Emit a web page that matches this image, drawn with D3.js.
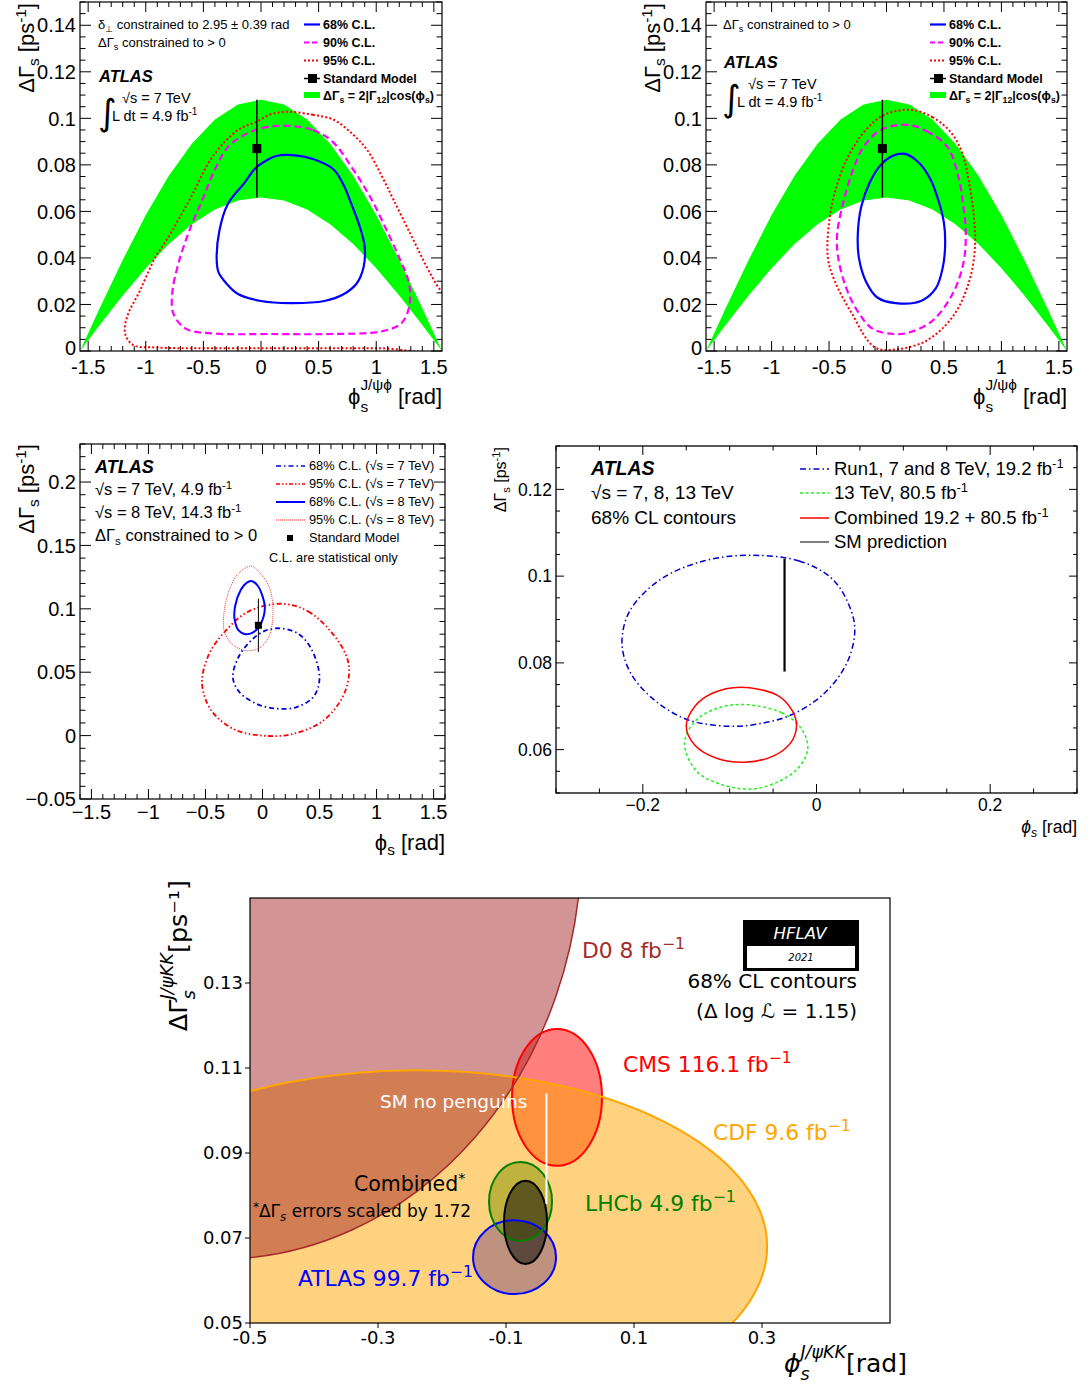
<!DOCTYPE html>
<html><head><meta charset="utf-8">
<script src="https://cdn.jsdelivr.net/npm/d3@7"></script>
<style>body{margin:0;background:#fff}svg{display:block}</style>
</head><body>
<svg id="c" width="1088" height="1387"></svg>
<script>
// ================= DATA =================
// Theory band dGamma = 2|G12|cos(phi) (panels A, B)
const bandPhi   = [-1.5708,-1.4,-1.2,-1.0,-0.8,-0.6,-0.4,-0.2,0,0.2,0.4,0.6,0.8,1.0,1.2,1.4,1.5708];
const bandUpper = [0,0.0184,0.0391,0.0584,0.0753,0.0891,0.0995,0.1059,0.108,0.1059,0.0995,0.0891,0.0753,0.0584,0.0391,0.0184,0];
const bandLower = [0,0.0112,0.0239,0.0356,0.0460,0.0545,0.0608,0.0647,0.066,0.0647,0.0608,0.0545,0.0460,0.0356,0.0239,0.0112,0];
// Standard model points
const smOld = {phi:-0.036, dg:0.087, err:0.021};
const smNew = {phi:-0.0368, dg:0.091, err:0.013};
// Panel A contours [phi, dGamma]
const contA68 = [[0.235,0.0843],[0.45,0.0825],[0.63,0.078],[0.72,0.071],[0.77,0.065],[0.86,0.053],[0.90,0.0447],[0.89,0.036],[0.83,0.029],[0.72,0.0245],[0.55,0.0215],[0.25,0.0206],[0.0,0.0215],[-0.2,0.0245],[-0.3,0.029],[-0.37,0.034],[-0.385,0.0405],[-0.36,0.0520],[-0.29,0.063],[-0.14,0.0725],[-0.05,0.0785],[0.05,0.082],[0.13,0.0838]];
const contA90 = [[0.235,0.0968],[0.45,0.0950],[0.62,0.0900],[0.80,0.0780],[0.95,0.066],[1.08,0.053],[1.20,0.040],[1.28,0.030],[1.29,0.020],[1.22,0.012],[1.05,0.0085],[0.6,0.0073],[0.1,0.0073],[-0.4,0.0075],[-0.65,0.0095],[-0.76,0.016],[-0.77,0.025],[-0.72,0.037],[-0.62,0.052],[-0.50,0.066],[-0.40,0.078],[-0.28,0.088],[-0.10,0.094],[0.05,0.0962]];
const contA95 = [[0.25,0.1028],[0.45,0.1015],[0.63,0.0994],[0.80,0.093],[0.92,0.0865],[1.05,0.075],[1.15,0.065],[1.30,0.050],[1.44,0.036],[1.53,0.028],[1.64,0.020],[1.64,0.0015],[1.0,0.0012],[0.0,0.0012],[-0.9,0.0015],[-1.11,0.0026],[-1.18,0.0077],[-1.16,0.015],[-1.05,0.026],[-0.92,0.040],[-0.82,0.0477],[-0.62,0.065],[-0.42,0.0835],[-0.2,0.095],[-0.04,0.0985],[0.1,0.102]];
// Panel B contours
const contB68 = [[0.16,0.0847],[0.28,0.081],[0.38,0.074],[0.45,0.065],[0.50,0.055],[0.51,0.045],[0.49,0.036],[0.43,0.027],[0.30,0.0215],[0.08,0.0206],[-0.08,0.023],[-0.18,0.030],[-0.24,0.040],[-0.25,0.050],[-0.22,0.062],[-0.15,0.072],[-0.05,0.080],[0.05,0.0838]];
const contB90 = [[0.18,0.0972],[0.35,0.0945],[0.53,0.0877],[0.62,0.076],[0.67,0.062],[0.69,0.050],[0.67,0.038],[0.58,0.025],[0.40,0.0130],[0.20,0.0080],[0.06,0.0073],[-0.12,0.0095],[-0.25,0.017],[-0.35,0.027],[-0.42,0.040],[-0.43,0.050],[-0.37,0.065],[-0.29,0.078],[-0.2,0.0877],[-0.05,0.095]];
const contB95 = [[0.21,0.1037],[0.40,0.1005],[0.56,0.094],[0.66,0.085],[0.72,0.072],[0.76,0.058],[0.77,0.0447],[0.72,0.030],[0.58,0.0150],[0.35,0.0045],[0.10,0.0008],[-0.10,0.0015],[-0.30,0.0160],[-0.45,0.030],[-0.51,0.040],[-0.50,0.055],[-0.45,0.068],[-0.34,0.083],[-0.18,0.095],[-0.02,0.1015]];
// Panel C contours
const contC8_68 = [[-0.097,0.122],[-0.04,0.118],[0.0,0.110],[0.02,0.102],[0.01,0.094],[-0.03,0.086],[-0.09,0.081],[-0.15,0.080],[-0.21,0.083],[-0.245,0.092],[-0.24,0.102],[-0.19,0.115],[-0.14,0.1205]];
const contC8_95 = [[-0.097,0.1337],[-0.02,0.128],[0.06,0.117],[0.09,0.103],[0.085,0.088],[0.05,0.077],[-0.03,0.069],[-0.14,0.067],[-0.25,0.071],[-0.33,0.081],[-0.34,0.095],[-0.29,0.115],[-0.21,0.128]];
const contC7_68 = [[0.17,0.0845],[0.32,0.080],[0.43,0.068],[0.50,0.0458],[0.45,0.031],[0.30,0.0225],[0.12,0.0213],[-0.05,0.025],[-0.20,0.034],[-0.26,0.0458],[-0.21,0.062],[-0.10,0.075],[0.03,0.083]];
const contC7_95 = [[0.17,0.104],[0.40,0.098],[0.60,0.082],[0.73,0.064],[0.76,0.050],[0.70,0.030],[0.52,0.011],[0.25,0.001],[0.0,0.0],[-0.25,0.005],[-0.45,0.020],[-0.53,0.041],[-0.47,0.064],[-0.32,0.083],[-0.12,0.098]];
// Panel D contours
const contDrun1 = [[-0.078,0.1048],[-0.02,0.1035],[0.019,0.0992],[0.040,0.092],[0.044,0.0869],[0.035,0.080],[0.0097,0.0731],[-0.028,0.0681],[-0.065,0.0660],[-0.101,0.0654],[-0.150,0.0670],[-0.190,0.0720],[-0.215,0.078],[-0.224,0.0846],[-0.215,0.092],[-0.18,0.0992],[-0.13,0.1035]];
const contD13   = [[-0.083,0.0704],[-0.040,0.0685],[-0.018,0.0650],[-0.010,0.0604],[-0.020,0.0560],[-0.045,0.0525],[-0.0765,0.0509],[-0.110,0.0520],[-0.138,0.0550],[-0.152,0.0615],[-0.140,0.0665],[-0.115,0.0695]];
const contDcomb = [[-0.0876,0.0744],[-0.045,0.0725],[-0.028,0.0690],[-0.023,0.0654],[-0.030,0.0615],[-0.050,0.0585],[-0.083,0.0571],[-0.115,0.0580],[-0.140,0.0610],[-0.150,0.0654],[-0.140,0.0700],[-0.120,0.0730]];
// Panel E (HFLAV) 68% CL ellipses
const ellNames = ["ATLAS","CMS","LHCb","CDF","D0","Combined"];
const ellPhi   = [-0.0867,-0.0203,-0.0773,-0.24,-0.55,-0.0695];
const ellDG    = [0.0655,0.1031,0.0786,0.068,0.163,0.0737];
const ellPhiR  = [0.0648,0.0703,0.0492,0.548,0.568,0.0336];
const ellDGR   = [0.0087,0.0161,0.0093,0.0415,0.098,0.0098];
const ellColor = ["#0000ff","#ff0000","#008000","#ffa500","#a52a2a","#000000"];
// Tick labels
const tickAx = [-1.5,-1,-0.5,0,0.5,1,1.5], tickAxL = ["-1.5","-1","-0.5","0","0.5","1","1.5"];
const tickAy = [0,0.02,0.04,0.06,0.08,0.1,0.12,0.14], tickAyL = ["0","0.02","0.04","0.06","0.08","0.1","0.12","0.14"];
const tickCx = [-1.5,-1,-0.5,0,0.5,1,1.5], tickCxL = ["\u22121.5","\u22121","\u22120.5","0","0.5","1","1.5"];
const tickCy = [-0.05,0,0.05,0.1,0.15,0.2], tickCyL = ["\u22120.05","0","0.05","0.1","0.15","0.2"];
const tickDx = [-0.2,0,0.2], tickDxL = ["\u22120.2","0","0.2"];
const tickDy = [0.06,0.08,0.1,0.12], tickDyL = ["0.06","0.08","0.1","0.12"];
const tickEx = [-0.5,-0.3,-0.1,0.1,0.3], tickExL = ["-0.5","-0.3","-0.1","0.1","0.3"];
const tickEy = [0.05,0.07,0.09,0.11,0.13], tickEyL = ["0.05","0.07","0.09","0.11","0.13"];

// ================= HELPERS =================
const svg = d3.select('#c');
const ROOT = "'Liberation Sans', Arial, Helvetica, sans-serif";
const MPL = "'DejaVu Sans', sans-serif";
const PHI = '\u03d5';

function rich(g, x, y, segs, o) {
  const size = o.size;
  const t = g.append('text').attr('x', x).attr('y', y)
    .attr('font-family', o.family || ROOT).attr('font-size', size)
    .attr('text-anchor', o.anchor || 'start').attr('fill', o.fill || '#000');
  if (o.weight) t.attr('font-weight', o.weight);
  if (o.style) t.attr('font-style', o.style);
  let cur = 0;
  segs.forEach(s => {
    const [txt, kind, st] = Array.isArray(s) ? s : [s, ''];
    let off = 0, fs = size;
    if (kind === 'sup') { off = -size * (o.supRise || 0.38); fs = size * (o.supScale || 0.7); }
    if (kind === 'sub') { off = size * 0.22; fs = size * 0.7; }
    const ts = t.append('tspan').attr('dy', off - cur).attr('font-size', fs).text(txt);
    if (st) ts.attr('font-style', st);
    cur = off;
  });
  return t;
}

// base + stacked (sup over sub) + tail, right aligned at xRight
function stacked(g, xRight, y, base, sup, sub, tail, o) {
  const size = o.size, fam = o.family || ROOT;
  const mk = (txt, fs, st) => { const t = g.append('text').attr('font-family', fam).attr('font-size', fs).attr('fill', '#000').text(txt); if (st) t.attr('font-style', st); return t; };
  const tT = mk(tail, size, o.tailStyle).attr('x', xRight).attr('y', y).attr('text-anchor', 'end');
  const wT = tT.node().getComputedTextLength();
  const xs = xRight - wT - (o.gap || 0);
  const tSup = mk(sup, size * (o.supScale || 0.7), o.scriptStyle).attr('y', y - size * (o.supRise || 0.5));
  const tSub = mk(sub, size * 0.7, o.scriptStyle).attr('y', y + size * (o.subDrop || 0.3));
  const w = Math.max(tSup.node().getComputedTextLength(), tSub.node().getComputedTextLength());
  tSup.attr('x', xs - w); tSub.attr('x', xs - w);
  mk(base, size, o.baseStyle).attr('x', xs - w - (o.gap2 || 0)).attr('y', y).attr('text-anchor', 'end');
}

function panel(id, xr, yr, xd, yd) {
  const x = d3.scaleLinear().domain(xd).range(xr);
  const y = d3.scaleLinear().domain(yd).range(yr);
  const g = svg.append('g');
  svg.append('clipPath').attr('id', 'clip' + id).append('rect')
    .attr('x', xr[0]).attr('y', yr[1]).attr('width', xr[1] - xr[0]).attr('height', yr[0] - yr[1]);
  const plot = g.append('g').attr('clip-path', `url(#clip${id})`);
  return { x, y, g, plot };
}

function steps(dom, step) {
  const a = Math.ceil((dom[0] - 1e-9) / step), b = Math.floor((dom[1] + 1e-9) / step);
  return d3.range(a, b + 1).map(i => +(i * step).toFixed(6));
}
function isMaj(v, step) { return Math.abs(v / step - Math.round(v / step)) < 1e-6; }

function rootAxes(P, o) {
  const { x, y, g } = P;
  const [x0, x1] = x.range(), [y0, y1] = y.range();
  const tg = g.append('g').attr('stroke', '#000').attr('stroke-width', o.tw || 1);
  steps(x.domain(), o.xMinor).forEach(v => {
    const L = isMaj(v, o.xMajor) ? o.majX : o.minX, px = x(v);
    tg.append('line').attr('x1', px).attr('x2', px).attr('y1', y0).attr('y2', y0 - L);
    tg.append('line').attr('x1', px).attr('x2', px).attr('y1', y1).attr('y2', y1 + L);
  });
  steps(y.domain(), o.yMinor).forEach(v => {
    const L = isMaj(v, o.yMajor) ? o.majY : o.minY, py = y(v);
    tg.append('line').attr('y1', py).attr('y2', py).attr('x1', x0).attr('x2', x0 + L);
    tg.append('line').attr('y1', py).attr('y2', py).attr('x1', x1).attr('x2', x1 - L);
  });
  g.append('rect').attr('x', x0).attr('y', y1).attr('width', x1 - x0).attr('height', y0 - y1)
    .attr('fill', 'none').attr('stroke', '#000').attr('stroke-width', o.fw || 1.2);
  const ax = g.append('g').attr('font-family', ROOT).attr('font-size', o.fs);
  o.xt.forEach((v, i) => ax.append('text').attr('x', x(v)).attr('y', y0 + o.xOff).attr('text-anchor', 'middle').text(o.xtl[i]));
  o.yt.forEach((v, i) => ax.append('text').attr('x', x0 - o.yOff).attr('y', y(v) + (o.yShift && i === 0 ? o.yShift : 0)).attr('dy', '0.36em').attr('text-anchor', 'end').text(o.ytl[i]));
}

const closedLine = (P) => d3.line().x(d => P.x(d[0])).y(d => P.y(d[1])).curve(d3.curveCatmullRomClosed.alpha(0.5));
function contour(P, data, color, width, dash) {
  const p = P.plot.append('path').attr('d', closedLine(P)(data)).attr('fill', 'none')
    .attr('stroke', color).attr('stroke-width', width);
  if (dash) p.attr('stroke-dasharray', dash);
}
function smMark(P, sm, size, w) {
  const px = P.x(sm.phi);
  P.plot.append('line').attr('x1', px).attr('x2', px).attr('y1', P.y(sm.dg - sm.err)).attr('y2', P.y(sm.dg + sm.err)).attr('stroke', '#000').attr('stroke-width', w);
  if (size) P.plot.append('rect').attr('x', px - size / 2).attr('y', P.y(sm.dg) - size / 2).attr('width', size).attr('height', size).attr('fill', '#000');
}

const BLUE = '#0000ff', MAG = '#ff00ff', RED = '#ff0000', GREEN = '#00ff00';
const dash90 = '7,4', dash95 = '2,2.2';

// ================= PANELS A & B =================
function panelAB(id, xr, contours, legendX, textSpec) {
  const P = panel(id, xr, [351, 2], [-1.5708, 1.5708], [0, 0.15]);
  const band = bandPhi.map((p, i) => [p, bandLower[i], bandUpper[i]]);
  P.plot.append('path').attr('d', d3.area().x(d => P.x(d[0])).y0(d => P.y(d[1])).y1(d => P.y(d[2]))(band)).attr('fill', GREEN);
  contour(P, contours[2], RED, 2, dash95);
  contour(P, contours[1], MAG, 2.2, dash90);
  contour(P, contours[0], BLUE, 2.2);
  smMark(P, smOld, 9, 1.5);
  rootAxes(P, { xMinor: 0.1, xMajor: 0.5, yMinor: 0.005, yMajor: 0.02, majX: 10, minX: 5, majY: 11, minY: 5.5,
    fs: 20, xOff: 22.5, yOff: 4, yShift: -3.5, xt: tickAx, xtl: tickAxL, yt: tickAy, ytl: tickAyL });
  const g = P.g;
  const x0 = xr[0];
  const ty = g.append('g').attr('transform', `translate(${x0 - 46},3) rotate(-90)`);
  rich(ty, 0, 0, ['\u0394\u0393', ['s', 'sub'], ' [ps', ['-1', 'sup'], ']'], { size: 22, anchor: 'end' });
  stacked(g, xr[1], 404, PHI, 'J/\u03c8' + PHI, 's', '[rad]', { size: 22, gap: 6, supRise: 0.62, subDrop: 0.38 });
  const L = g.append('g');
  const lx = legendX, rows = [29, 47, 65, 83, 100];
  const lab = ['68% C.L.', '90% C.L.', '95% C.L.', 'Standard Model'];
  [[BLUE, null, 2.2], [MAG, '5,3', 2.2], [RED, '2,2', 2]].forEach((s, i) => {
    const l = L.append('line').attr('x1', lx).attr('x2', lx + 16).attr('y1', rows[i] - 4.5).attr('y2', rows[i] - 4.5).attr('stroke', s[0]).attr('stroke-width', s[2]);
    if (s[1]) l.attr('stroke-dasharray', s[1]);
  });
  L.append('line').attr('x1', lx).attr('x2', lx + 16).attr('y1', rows[3] - 4.5).attr('y2', rows[3] - 4.5).attr('stroke', '#000').attr('stroke-width', 1.5);
  L.append('rect').attr('x', lx + 4).attr('y', rows[3] - 9).attr('width', 9).attr('height', 9).attr('fill', '#000');
  L.append('rect').attr('x', lx).attr('y', rows[4] - 8).attr('width', 16).attr('height', 6).attr('fill', GREEN);
  lab.forEach((t, i) => rich(L, lx + 19, rows[i], [t], { size: 12.5, weight: 'bold' }));
  rich(L, lx + 19, rows[4], ['\u0394\u0393', ['s', 'sub'], ' = 2|\u0393', ['12', 'sub'], '|cos(' + PHI, ['s', 'sub'], ')'], { size: 12.5, weight: 'bold' });
  textSpec(g);
  return P;
}

panelAB('A', [80, 442], [contA68, contA90, contA95], 304, g => {
  rich(g, 98, 29, ['\u03b4', ['\u22a5', 'sub'], ' constrained to 2.95 \u00b1 0.39 rad'], { size: 13 });
  rich(g, 98, 47, ['\u0394\u0393', ['s', 'sub'], ' constrained to > 0'], { size: 13 });
  rich(g, 99, 82, ['ATLAS'], { size: 16.5, weight: 'bold', style: 'italic' });
  rich(g, 98, 125, ['\u222b'], { size: 36, family: MPL });
  rich(g, 122, 103, ['\u221as = 7 TeV'], { size: 14.5 });
  rich(g, 112, 121, ['L dt = 4.9 fb', ['-1', 'sup']], { size: 14.5 });
});
panelAB('B', [706, 1067], [contB68, contB90, contB95], 930, g => {
  rich(g, 723, 29, ['\u0394\u0393', ['s', 'sub'], ' constrained to > 0'], { size: 13 });
  rich(g, 724, 68, ['ATLAS'], { size: 16.5, weight: 'bold', style: 'italic' });
  rich(g, 722, 111, ['\u222b'], { size: 36, family: MPL });
  rich(g, 748, 89, ['\u221as = 7 TeV'], { size: 14.5 });
  rich(g, 737, 107, ['L dt = 4.9 fb', ['-1', 'sup']], { size: 14.5 });
});

// ================= PANEL C =================
(function () {
  const P = panel('C', [80, 445], [799, 444], [-1.6, 1.6], [-0.05, 0.23]);
  contour(P, contC7_95, RED, 1.8, '5,2.5,1.5,2.5,1.5,2.5');
  contour(P, contC7_68, '#0000dd', 1.8, '5,3,1.5,3');
  contour(P, contC8_95, '#ff3030', 1, '1,1');
  contour(P, contC8_68, BLUE, 2);
  smMark(P, smOld, 7, 1);
  rootAxes(P, { xMinor: 0.1, xMajor: 0.5, yMinor: 0.01, yMajor: 0.05, majX: 10, minX: 5, majY: 11, minY: 5.5,
    fs: 20, xOff: 20, yOff: 4, xt: tickCx, xtl: tickCxL, yt: tickCy, ytl: tickCyL });
  const g = P.g;
  const ty = g.append('g').attr('transform', 'translate(34,444) rotate(-90)');
  rich(ty, 0, 0, ['\u0394\u0393', ['s', 'sub'], ' [ps', ['-1', 'sup'], ']'], { size: 22, anchor: 'end' });
  rich(g, 445, 850, [PHI, ['s', 'sub'], ' [rad]'], { size: 22, anchor: 'end' });
  rich(g, 95, 473, ['ATLAS'], { size: 18, weight: 'bold', style: 'italic' });
  rich(g, 95, 495, ['\u221as = 7 TeV, 4.9 fb', ['-1', 'sup']], { size: 16.5 });
  rich(g, 95, 518, ['\u221as = 8 TeV, 14.3 fb', ['-1', 'sup']], { size: 16.5 });
  rich(g, 95, 541, ['\u0394\u0393', ['s', 'sub'], ' constrained to > 0'], { size: 16.5 });
  const rows = [470, 488, 506, 524, 542];
  const st = [['#0000dd', 1.5, '5,3,1.5,3'], [RED, 1.5, '4,2,1.5,2,1.5,2'], [BLUE, 2, null], ['#ff3030', 1, '1,1']];
  const labs = ['68% C.L. (\u221as = 7 TeV)', '95% C.L. (\u221as = 7 TeV)', '68% C.L. (\u221as = 8 TeV)', '95% C.L. (\u221as = 8 TeV)'];
  st.forEach((s, i) => {
    const l = g.append('line').attr('x1', 276).attr('x2', 305).attr('y1', rows[i] - 4).attr('y2', rows[i] - 4).attr('stroke', s[0]).attr('stroke-width', s[1]);
    if (s[2]) l.attr('stroke-dasharray', s[2]);
    rich(g, 309, rows[i], [labs[i]], { size: 12.8 });
  });
  g.append('rect').attr('x', 287).attr('y', rows[4] - 7).attr('width', 6).attr('height', 6).attr('fill', '#000');
  rich(g, 309, rows[4], ['Standard Model'], { size: 12.8 });
  rich(g, 269, 562, ['C.L. are statistical only'], { size: 12.8 });
})();

// ================= PANEL D =================
(function () {
  const P = panel('D', [556, 1077], [793, 446], [-0.3, 0.3], [0.05, 0.13]);
  contour(P, contDrun1, '#0000cc', 1.5, '6,3,1.5,3');
  contour(P, contD13, '#22ee22', 1.5, '3,2.5');
  contour(P, contDcomb, RED, 1.5);
  smMark(P, smNew, 0, 2.2);
  rootAxes(P, { xMinor: 0.05, xMajor: 0.2, yMinor: 0.005, yMajor: 0.02, majX: 9, minX: 4.5, majY: 8, minY: 4,
    fs: 17.5, xOff: 18, yOff: 4, xt: tickDx, xtl: tickDxL, yt: tickDy, ytl: tickDyL, fw: 1.3 });
  const g = P.g;
  const ty = g.append('g').attr('transform', 'translate(506,447) rotate(-90)');
  rich(ty, 0, 0, ['\u0394\u0393', ['s', 'sub'], ' [ps', ['-1', 'sup'], ']'], { size: 16, anchor: 'end' });
  rich(g, 1077, 833, [[PHI, '', 'italic'], ['s', 'sub', 'italic'], ' [rad]'], { size: 17.5, anchor: 'end' });
  rich(g, 591, 475, ['ATLAS'], { size: 19.5, weight: 'bold', style: 'italic' });
  rich(g, 591, 499, ['\u221as = 7, 8, 13 TeV'], { size: 19 });
  rich(g, 591, 524, ['68% CL contours'], { size: 19 });
  const rows = [475, 499, 524, 548];
  const st = [['#0000cc', 1.5, '6,3,1.5,3'], ['#22ee22', 1.5, '3,2.5'], [RED, 1.5, null], ['#555', 1.5, null]];
  st.forEach((s, i) => {
    const l = g.append('line').attr('x1', 800).attr('x2', 829).attr('y1', rows[i] - 6).attr('y2', rows[i] - 6).attr('stroke', s[0]).attr('stroke-width', s[1]);
    if (s[2]) l.attr('stroke-dasharray', s[2]);
  });
  rich(g, 834, rows[0], ['Run1, 7 and 8 TeV, 19.2 fb', ['-1', 'sup']], { size: 18.5 });
  rich(g, 834, rows[1], ['13 TeV, 80.5 fb', ['-1', 'sup']], { size: 18.5 });
  rich(g, 834, rows[2], ['Combined 19.2 + 80.5 fb', ['-1', 'sup']], { size: 18.5 });
  rich(g, 834, rows[3], ['SM prediction'], { size: 18.5 });
})();

// ================= PANEL E (HFLAV) =================
(function () {
  const P = panel('E', [250, 890], [1323, 898], [-0.5, 0.5], [0.05, 0.15]);
  const ells = ellNames.map((n, i) => ({ n, phi: ellPhi[i], dg: ellDG[i], rp: ellPhiR[i], rd: ellDGR[i], c: ellColor[i] }));
  const drawOrder = ['ATLAS', 'CMS', 'LHCb', 'CDF', 'D0', 'Combined'];
  const byName = n => ells.find(e => e.n === n);
  drawOrder.forEach(n => {
    const e = byName(n);
    P.plot.append('ellipse').attr('cx', P.x(e.phi)).attr('cy', P.y(e.dg))
      .attr('rx', P.x(e.phi + e.rp) - P.x(e.phi)).attr('ry', P.y(e.dg) - P.y(e.dg + e.rd))
      .attr('fill', e.c).attr('fill-opacity', 0.5).attr('stroke', 'none');
  });
  drawOrder.forEach(n => {
    const e = byName(n);
    P.plot.append('ellipse').attr('cx', P.x(e.phi)).attr('cy', P.y(e.dg))
      .attr('rx', P.x(e.phi + e.rp) - P.x(e.phi)).attr('ry', P.y(e.dg) - P.y(e.dg + e.rd))
      .attr('fill', 'none').attr('stroke', e.c).attr('stroke-width', n === 'D0' ? 1.5 : 2);
  });
  P.plot.append('line').attr('x1', P.x(smNew.phi)).attr('x2', P.x(smNew.phi))
    .attr('y1', P.y(smNew.dg - smNew.err)).attr('y2', P.y(smNew.dg + smNew.err)).attr('stroke', '#fff').attr('stroke-width', 2);
  const g = P.g;
  const [x0, x1] = P.x.range(), [y0, y1] = P.y.range();
  g.append('rect').attr('x', x0).attr('y', y1).attr('width', x1 - x0).attr('height', y0 - y1).attr('fill', 'none').attr('stroke', '#000').attr('stroke-width', 1.2);
  const ax = g.append('g').attr('font-family', MPL).attr('font-size', 18);
  tickEx.forEach((v, i) => {
    ax.append('line').attr('x1', P.x(v)).attr('x2', P.x(v)).attr('y1', y0).attr('y2', y0 + 5).attr('stroke', '#000');
    ax.append('text').attr('x', P.x(v)).attr('y', y0 + 21).attr('text-anchor', 'middle').text(tickExL[i]);
  });
  tickEy.forEach((v, i) => {
    ax.append('line').attr('x1', x0).attr('x2', x0 - 5).attr('y1', P.y(v)).attr('y2', P.y(v)).attr('stroke', '#000');
    ax.append('text').attr('x', x0 - 7).attr('y', P.y(v)).attr('dy', '0.36em').attr('text-anchor', 'end').text(tickEyL[i]);
  });
  stacked(g, 907, 1372, PHI, 'J/\u03c8KK', 's', '[rad]', { size: 25, family: MPL, baseStyle: 'italic', scriptStyle: 'italic', supRise: 0.55, subDrop: 0.3 });
  const ty = g.append('g').attr('transform', 'translate(187,880) rotate(-90)');
  stacked(ty, 0, 0, '\u0394\u0393', 'J/\u03c8KK', 's', '[ps\u207b\u00b9]', { size: 25.5, family: MPL, scriptStyle: 'italic', supRise: 0.55, subDrop: 0.3 });
  const lo = { size: 21.8, family: MPL, supRise: 0.42, supScale: 0.72 };
  rich(g, 582, 958, ['D0 8 fb', ['\u22121', 'sup']], Object.assign({ fill: '#a52a2a' }, lo));
  rich(g, 623, 1072, ['CMS 116.1 fb', ['\u22121', 'sup']], Object.assign({ fill: '#ff0000' }, lo));
  rich(g, 713, 1140, ['CDF 9.6 fb', ['\u22121', 'sup']], Object.assign({ fill: '#ffa500' }, lo));
  rich(g, 585, 1211, ['LHCb 4.9 fb', ['\u22121', 'sup']], Object.assign({ fill: '#008000' }, lo));
  rich(g, 298, 1286, ['ATLAS 99.7 fb', ['\u22121', 'sup']], Object.assign({ fill: '#0000ff' }, lo));
  rich(g, 380, 1108, ['SM no penguins'], { size: 18.5, family: MPL, fill: '#fff' });
  rich(g, 354, 1191, ['Combined', ['*', 'sup']], { size: 20.5, family: MPL });
  rich(g, 253, 1217, [['*', 'sup'], '\u0394\u0393', ['s', 'sub', 'italic'], ' errors scaled by 1.72'], { size: 17, family: MPL });
  rich(g, 857, 988, ['68% CL contours'], { size: 20, family: MPL, anchor: 'end' });
  rich(g, 857, 1018, ['(\u0394 log \u2112 = 1.15)'], { size: 20, family: MPL, anchor: 'end' });
  g.append('rect').attr('x', 743).attr('y', 920).attr('width', 116).attr('height', 51).attr('fill', '#000');
  g.append('rect').attr('x', 747).attr('y', 946).attr('width', 108).attr('height', 22).attr('fill', '#fff');
  rich(g, 800, 939, ['HFLAV'], { size: 16.5, family: MPL, fill: '#fff', style: 'italic', anchor: 'middle' });
  rich(g, 801, 961, ['2021'], { size: 10, family: MPL, style: 'italic', anchor: 'middle' });
})();
</script>
</body></html>
